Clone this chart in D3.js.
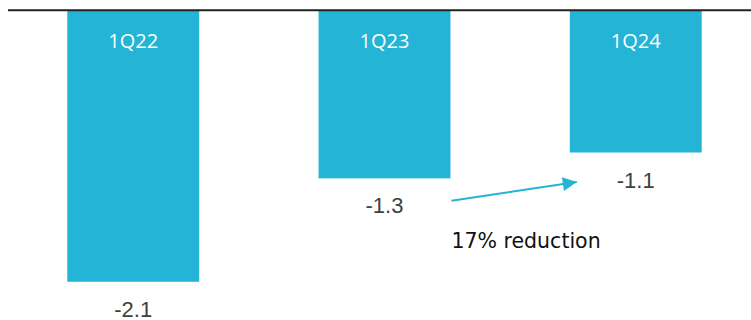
<!DOCTYPE html>
<html>
<head>
<meta charset="utf-8">
<script src="https://cdn.jsdelivr.net/npm/d3@7"></script>
<style>
  html, body { margin: 0; padding: 0; background: #fff; }
  svg { display: block; }
</style>
</head>
<body>
<svg id="chart" width="751" height="320"></svg>
<script>
// Quarterly values (negative bars hanging from the zero line)
const quarters = ["1Q22", "1Q23", "1Q24"];
const values = [-2.1, -1.3, -1.1];
const valueLabels = ["-2.1", "-1.3", "-1.1"];
const annotationText = "17% reduction";

const barColor = "#23b4d6";
const svg = d3.select("#chart");

const x = d3.scaleBand()
  .domain(quarters)
  .range([7, 762])
  .paddingInner(0.475)
  .paddingOuter(0.24);

const y = d3.scaleLinear()
  .domain([0, -2.2])
  .range([10.3, 294.7]);

const data = quarters.map((q, i) => ({ q, v: values[i], label: valueLabels[i] }));

// Bars
svg.append("g").selectAll("rect")
  .data(data)
  .join("rect")
  .attr("x", d => x(d.q))
  .attr("width", x.bandwidth())
  .attr("y", y(0))
  .attr("height", d => y(d.v) - y(0))
  .attr("fill", barColor);

// Zero line across the top
svg.append("line")
  .attr("x1", 8).attr("x2", 751)
  .attr("y1", y(0)).attr("y2", y(0))
  .attr("stroke", "#222")
  .attr("stroke-width", 2);

// Category names inside each bar
svg.append("g").selectAll("text")
  .data(data)
  .join("text")
  .attr("x", d => x(d.q) + x.bandwidth() / 2)
  .attr("y", y(0) + 38)
  .attr("text-anchor", "middle")
  .attr("font-family", "'Open Sans', sans-serif")
  .attr("font-size", 20)
  .attr("fill", "#fff")
  .text(d => d.q);

// Value labels below each bar
svg.append("g").selectAll("text")
  .data(data)
  .join("text")
  .attr("x", d => x(d.q) + x.bandwidth() / 2)
  .attr("y", d => y(d.v) + 35)
  .attr("text-anchor", "middle")
  .attr("font-family", "'Liberation Sans', Arial, sans-serif")
  .attr("font-size", 22)
  .attr("fill", "#404040")
  .text(d => d.label);

// Arrow from 1Q23 towards 1Q24
const a = data[1], b = data[2];
const x0 = x(a.q) + x.bandwidth() + 1;
const y0 = y(a.v) + 22.5;
const x1 = x(b.q) + 7;
const y1 = y(b.v) + 29.5;

svg.append("defs").append("marker")
  .attr("id", "arrowhead")
  .attr("viewBox", "0 0 10 10")
  .attr("refX", 10).attr("refY", 5)
  .attr("markerWidth", 7.5).attr("markerHeight", 7)
  .attr("markerUnits", "strokeWidth")
  .attr("orient", "auto")
  .append("path")
  .attr("d", "M0,0 L10,5 L0,10 Z")
  .attr("fill", barColor);

svg.append("line")
  .attr("x1", x0).attr("y1", y0)
  .attr("x2", x1).attr("y2", y1)
  .attr("stroke", barColor)
  .attr("stroke-width", 2)
  .attr("marker-end", "url(#arrowhead)");

svg.append("text")
  .attr("x", x0)
  .attr("y", y(a.v) + 70)
  .attr("font-family", "'DejaVu Sans', sans-serif")
  .attr("font-size", 20.5)
  .attr("fill", "#111")
  .text(annotationText);
</script>
</body>
</html>
